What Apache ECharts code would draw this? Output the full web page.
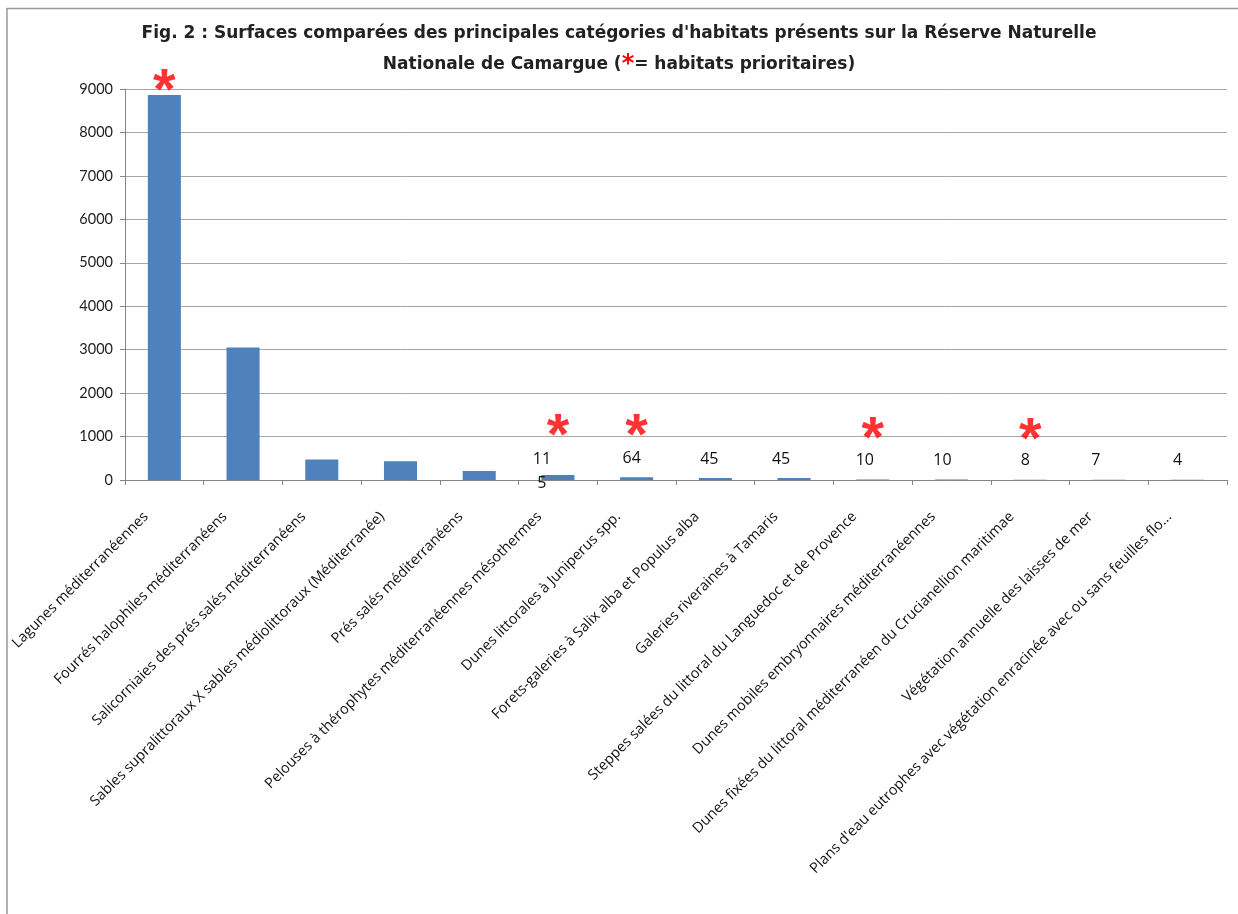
<!DOCTYPE html>
<html>
<head>
<meta charset="utf-8">
<script src="https://cdn.jsdelivr.net/npm/echarts@6/dist/echarts.min.js"></script>
<style>html,body{margin:0;padding:0;background:#fff}#c{width:1238px;height:914px}</style>
</head>
<body>
<div id="c"></div>
<script>
const categories = [
  "Lagunes méditerranéennes",
  "Fourrés halophiles méditerranéens",
  "Salicorniaies des prés salés méditerranéens",
  "Sables supralittoraux X sables médiolittoraux (Méditerranée)",
  "Prés salés méditerranéens",
  "Pelouses à thérophytes méditerranéennes mésothermes",
  "Dunes littorales à Juniperus spp.",
  "Forets-galeries à Salix alba et Populus alba",
  "Galeries riveraines à Tamaris",
  "Steppes salées du littoral du Languedoc et de Provence",
  "Dunes mobiles embryonnaires méditerranéennes",
  "Dunes fixées du littoral méditerranéen du Crucianellion maritimae",
  "Végétation annuelle des laisses de mer",
  "Plans d'eau eutrophes avec végétation enracinée avec ou sans feuilles flo..."
];
const surfaces = [8860, 3050, 470, 430, 210, 115, 64, 45, 45, 10, 10, 8, 7, 4];
const valueLabels = ["", "", "", "", "", "11\n5", "64", "45", "45", "10", "10", "8", "7", "4"];
const prioritaire = [true, false, false, false, false, true, true, false, false, true, false, true, false, false];
const asteriskLevel = [9220, null, null, null, null, 1300, 1290, null, null, 1230, null, 1200, null, null];
const yTicks = [0, 1000, 2000, 3000, 4000, 5000, 6000, 7000, 8000, 9000];
const labelDx = [0, 0, 0, 0, 0, -16, -5, -6, -13, -8, -9, -5, -13, -10];

const chart = echarts.init(document.getElementById('c'));
const barData = surfaces.map((v, i) => {
  const item = { value: v };
  if (valueLabels[i]) {
    item.label = {
      show: true, formatter: valueLabels[i], position: 'top', distance: 7,
      offset: [labelDx[i], i === 5 ? 27 : 0], lineHeight: 24
    };
  }
  return item;
});
const starData = asteriskLevel.map((v, i) => prioritaire[i] ? [i, v] : [i, null]);

chart.setOption({
  animation: false,
  title: {
    text: "Fig. 2 : Surfaces comparées des principales catégories d'habitats présents sur la Réserve Naturelle\nNationale de Camargue ({r|*}= habitats prioritaires)",
    left: 'center', top: 13,
    textStyle: {
      fontFamily: 'DejaVu Sans', fontSize: 17, fontWeight: 'bold', color: '#222', lineHeight: 31,
      rich: { r: { color: '#ff0000', fontSize: 24, fontWeight: 'bold', fontFamily: 'DejaVu Sans', lineHeight: 31, verticalAlign: 'middle' } }
    }
  },
  grid: { left: 125, right: 11, top: 89, bottom: 434, containLabel: false },
  xAxis: {
    type: 'category', data: categories,
    axisLine: { lineStyle: { color: '#868686', width: 1 } },
    axisTick: { show: true, alignWithLabel: false, length: 5, lineStyle: { color: '#868686' } },
    axisLabel: { interval: 0, rotate: 45, fontFamily: 'Open Sans', fontSize: 14.5, color: '#111', margin: 16, padding: [0, 26, 0, 0] }
  },
  yAxis: {
    type: 'value', min: 0, max: 9000, interval: 1000,
    axisLine: { show: true, lineStyle: { color: '#868686' } },
    axisTick: { show: true, length: 5, lineStyle: { color: '#868686' } },
    splitLine: { lineStyle: { color: '#a6a6a6', width: 1 } },
    axisLabel: { fontFamily: 'Lato', fontSize: 14.5, color: '#222', margin: 12, formatter: v => String(v) }
  },
  series: [
    {
      type: 'bar', data: barData, barWidth: '42%', barMinHeight: 0,
      itemStyle: { color: '#4f81bd' },
      label: { show: false, fontFamily: 'Open Sans', fontSize: 16, color: '#111' }
    },
    {
      type: 'scatter', data: starData, symbolSize: 1, clip: false,
      itemStyle: { color: 'rgba(0,0,0,0)' },
      label: {
        show: true, formatter: '*', position: 'inside', color: '#ff0000',
        fontFamily: 'Liberation Sans', fontWeight: 'bold', fontSize: 58, offset: [0, 14]
      }
    }
  ],
  graphic: [
    { type: 'line', shape: { x1: 7, y1: 8.5, x2: 1238, y2: 8.5 }, style: { stroke: '#999', lineWidth: 1.5 } },
    { type: 'line', shape: { x1: 7, y1: 8, x2: 7, y2: 914 }, style: { stroke: '#999', lineWidth: 1.5 } }
  ]
});
</script>
</body>
</html>
